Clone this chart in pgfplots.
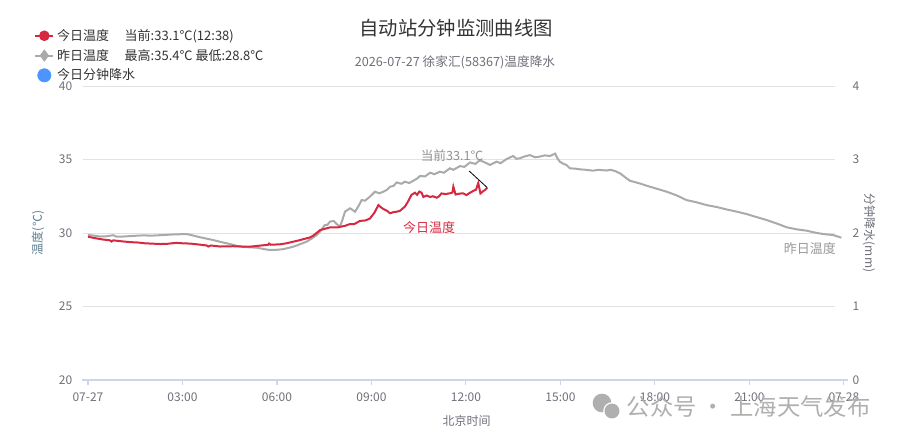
\documentclass[border=0pt]{standalone}
\usepackage{fontspec}
\setmainfont{Noto Sans CJK SC}
\usepackage{pgfplots}
\pgfplotsset{compat=1.18}
\definecolor{tdred}{RGB}{214,40,65}
\definecolor{ydgray}{RGB}{170,170,170}
\definecolor{rainblue}{RGB}{77,148,255}
\definecolor{gridc}{RGB}{226,226,226}
\definecolor{axisc}{RGB}{204,214,235}
\definecolor{tickc}{RGB}{110,112,121}
\definecolor{ylabc}{RGB}{95,125,145}
\definecolor{titlec}{RGB}{51,51,51}
\definecolor{wmc}{RGB}{175,175,175}
\begin{document}
\begin{tikzpicture}[font=\fontsize{9}{11}\selectfont]
\path (0,0) rectangle (678pt,332.25pt);
\begin{axis}[
  at={(61.5pt,47.25pt)}, anchor=south west,
  scale only axis, width=574.5pt, height=220.5pt,
  xmin=-0.19, xmax=24.13, ymin=20, ymax=40,
  clip=false,
  xtick={0,3,6,9,12,15,18,21,24},
  xticklabels={07-27,03:00,06:00,09:00,12:00,15:00,18:00,21:00,07-28},
  ytick={20,25,30,35,40},
  axis x line*=bottom, axis y line*=left,
  x axis line style={draw=axisc, line width=0.8pt, -},
  y axis line style={draw=none},
  xtick style={draw=axisc, line width=0.8pt},
  ytick style={draw=none},
  tick align=outside,
  major tick length=3.75pt,
  /pgf/number format/assume math mode=true,
  ticklabel style={text=tickc, font=\fontsize{9}{11}\selectfont},
  xticklabel style={yshift=-2.5pt},
  xlabel={北京时间},
  ylabel={温度(℃)},
  every axis x label/.style={at={(axis description cs:0.502,-0.14)}, anchor=center, text=tickc, font=\fontsize{9}{11}\selectfont},
  every axis y label/.style={at={(axis description cs:-0.0574,0.5)}, anchor=center, rotate=90, text=ylabc, font=\fontsize{9}{11}\selectfont},
  legend style={at={(-0.0627,1.203)}, anchor=north west, draw=none, fill=none,
    font=\fontsize{9.75}{11}\selectfont, row sep=1.1pt, inner sep=0pt, text=titlec},
  legend cell align=left,
  legend image code/.code={\draw[mark repeat=2,mark phase=2] plot coordinates {(0cm,0cm) (0.24cm,0cm) (0.48cm,0cm)};},
]
\foreach \g in {25,30,35,40}{
  \edef\tmp{\noexpand\draw[gridc, line width=0.7pt] (axis cs:-0.16,\g) -- (axis cs:23.71,\g);}\tmp
}
\addlegendimage{tdred, line width=1.5pt, mark=*, mark size=3.2pt}
\addlegendimage{ydgray, line width=1.5pt, mark=diamond*, mark size=3.4pt}
\addlegendimage{only marks, mark=*, mark size=5pt, color=rainblue, legend image code/.code={\draw plot coordinates {(0.24cm,0cm)};}}
\addplot[ydgray, line width=1.5pt, no marks, forget plot] coordinates {
(0,29.86)(0.2,29.82)(0.38,29.76)(0.6,29.78)(0.8,29.85)(0.9,29.76)(1.12,29.76)(1.4,29.8)(1.76,29.84)(2.0,29.82)(2.39,29.86)(2.7,29.9)(3.13,29.93)(3.3,29.85)(3.56,29.71)(3.8,29.6)(3.98,29.52)(4.2,29.4)(4.4,29.3)(4.6,29.2)(4.83,29.07)(5.1,29.03)(5.36,29.0)(5.6,28.9)(5.78,28.84)(6.0,28.86)(6.2,28.9)(6.35,28.98)(6.52,29.07)(6.75,29.25)(6.94,29.41)(7.1,29.62)(7.26,29.86)(7.37,30.09)(7.52,30.54)(7.6,30.55)(7.68,30.77)(7.8,30.82)(7.9,30.6)(8.0,30.43)(8.08,30.9)(8.16,31.45)(8.32,31.68)(8.48,31.45)(8.58,31.8)(8.69,32.24)(8.8,32.2)(8.95,32.47)(9.11,32.81)(9.25,32.7)(9.38,32.81)(9.5,32.95)(9.59,33.15)(9.7,33.2)(9.8,33.44)(9.95,33.35)(10.06,33.49)(10.2,33.4)(10.33,33.56)(10.45,33.7)(10.54,33.88)(10.7,33.85)(10.86,34.1)(11.0,34.0)(11.17,34.17)(11.3,34.1)(11.49,34.4)(11.6,34.3)(11.81,34.55)(11.95,34.5)(12.13,34.8)(12.3,34.7)(12.44,34.95)(12.55,34.85)(12.66,34.74)(12.76,34.63)(12.97,34.85)(13.1,34.75)(13.29,35.03)(13.5,35.24)(13.6,35.05)(13.71,35.08)(13.85,35.2)(14.03,35.3)(14.2,35.15)(14.35,35.2)(14.5,35.28)(14.67,35.24)(14.83,35.4)(14.9,35.1)(14.98,34.85)(15.1,34.7)(15.19,34.63)(15.3,34.4)(15.45,34.38)(15.62,34.33)(15.8,34.3)(16.04,34.24)(16.2,34.3)(16.46,34.25)(16.6,34.3)(16.75,34.2)(16.89,34.06)(17.05,33.8)(17.2,33.56)(17.52,33.37)(17.73,33.22)(18.0,33.05)(18.37,32.81)(18.7,32.55)(19.0,32.24)(19.3,32.1)(19.64,31.9)(20.0,31.75)(20.28,31.6)(20.6,31.45)(20.91,31.29)(21.2,31.1)(21.55,30.88)(21.9,30.62)(22.18,30.39)(22.5,30.25)(22.81,30.16)(23.1,30.02)(23.34,29.93)(23.66,29.86)(23.92,29.68)
};
\addplot[tdred, line width=1.5pt, no marks, forget plot] coordinates {
(0,29.75)(0.15,29.68)(0.3,29.62)(0.5,29.55)(0.7,29.5)(0.75,29.42)(0.8,29.5)(1.0,29.45)(1.33,29.38)(1.6,29.35)(1.8,29.3)(2.29,29.25)(2.5,29.26)(2.8,29.33)(3.0,29.3)(3.24,29.28)(3.5,29.22)(3.77,29.15)(3.82,29.08)(3.9,29.15)(4.19,29.08)(4.6,29.1)(4.9,29.08)(5.14,29.07)(5.5,29.15)(5.72,29.2)(5.75,29.28)(5.8,29.2)(6.1,29.23)(6.3,29.3)(6.52,29.41)(6.7,29.5)(6.94,29.64)(7.05,29.7)(7.15,29.82)(7.31,30.09)(7.37,30.2)(7.58,30.32)(7.68,30.38)(7.95,30.39)(8.0,30.42)(8.15,30.48)(8.32,30.61)(8.45,30.6)(8.63,30.82)(8.8,30.85)(8.95,30.98)(9.1,31.4)(9.22,31.9)(9.3,31.75)(9.38,31.63)(9.5,31.5)(9.59,31.34)(9.7,31.42)(9.8,31.45)(9.9,31.5)(10.06,31.79)(10.15,32.1)(10.27,32.59)(10.38,32.74)(10.45,32.6)(10.52,32.82)(10.59,32.74)(10.65,32.45)(10.75,32.55)(10.86,32.45)(10.95,32.5)(11.07,32.4)(11.15,32.5)(11.22,32.69)(11.35,32.65)(11.49,32.7)(11.57,32.75)(11.6,33.15)(11.67,32.62)(11.8,32.68)(11.91,32.7)(12.02,32.58)(12.1,32.7)(12.23,32.86)(12.32,32.95)(12.39,33.4)(12.46,32.69)(12.55,32.85)(12.62,32.95)(12.68,33.1)
};
\legend{今日温度\hspace{1.2em}当前:33.1℃(12:38), 昨日温度\hspace{1.2em}最高:35.4℃ 最低:28.8℃, 今日分钟降水}
\draw[black, line width=0.6pt] (axis cs:12.1,34.22) -- (axis cs:12.67,33.1);
\node[text=ydgray!85!black, font=\fontsize{9.5}{11}\selectfont] at (axis cs:11.56,35.24) {当前33.1℃};
\node[text=tdred, font=\fontsize{9.75}{11}\selectfont] at (axis cs:10.83,30.34) {今日温度};
\node[text=ydgray!90!black, font=\fontsize{9.75}{11}\selectfont] at (axis cs:22.92,28.91) {昨日温度};
\end{axis}
\begin{axis}[
  at={(61.5pt,47.25pt)}, anchor=south west,
  scale only axis, width=574.5pt, height=220.5pt,
  xmin=-0.19, xmax=24.13, ymin=0, ymax=4,
  ytick={0,1,2,3,4},
  axis y line*=right, hide x axis,
  y axis line style={draw=none},
  ytick style={draw=none},
  /pgf/number format/assume math mode=true,
  ticklabel style={text=tickc, font=\fontsize{9}{11}\selectfont},
  ylabel={分钟降水(mm)},
  every axis y label/.style={at={(axis description cs:1.0274,0.5)}, anchor=center, rotate=-90, text=tickc, font=\fontsize{9}{11}\selectfont},
]
\addplot[draw=none, forget plot] coordinates {(0,0)};
\end{axis}
\begin{scope}[x=0.75pt,y=-0.75pt,shift={(0pt,332.25pt)}]
\node[font=\fontsize{14.5}{17}\selectfont, text=titlec] at (456,28) {自动站分钟监测曲线图};
\node[font=\fontsize{9.5}{11}\selectfont, text=tickc] at (455,62) {2026-07-27 徐家汇(58367)温度降水};
\fill[wmc] (602,403) circle[radius=7pt];
\fill[white] (612,411) circle[radius=6.6pt];
\fill[wmc] (612,411) circle[radius=5.6pt];
\node[font=\fontsize{17.5}{20}\selectfont, text=wmc, anchor=west] at (622,407) {公众号 · 上海天气发布};
\end{scope}
\end{tikzpicture}
\end{document}
